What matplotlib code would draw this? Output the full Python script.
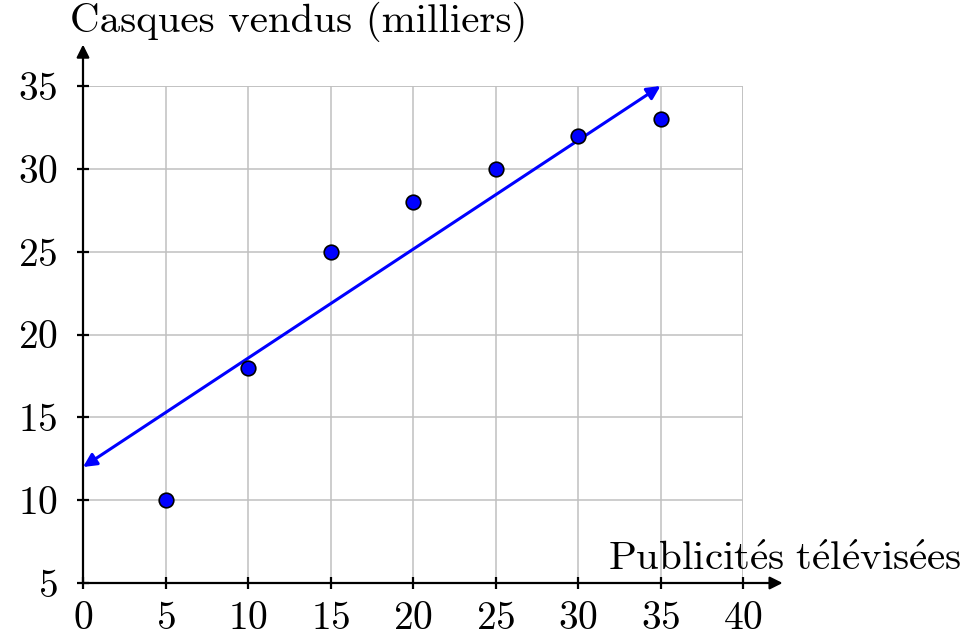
#Casques vendus en fonction des publicités télévisées
import matplotlib
matplotlib.use("Agg")
from matplotlib import pyplot as plt

# données
pubs = [5, 10, 15, 20, 25, 30, 35]
casques = [10, 18, 25, 28, 30, 32, 33]
# droite d'ajustement (extrémités)
droite_x = [0, 35]
droite_y = [12, 35]

x_ticks = [0, 5, 10, 15, 20, 25, 30, 35, 40]
y_ticks = [5, 10, 15, 20, 25, 30, 35]

plt.rcParams['font.family'] = ['cmr10', 'DejaVu Serif']
plt.rcParams['mathtext.fontset'] = 'cm'
plt.rcParams['axes.formatter.use_mathtext'] = True

fig = plt.figure(figsize=(9.64, 6.36), dpi=100)
ax = fig.add_axes([83/964, 53/636, 660/964, 497/636])

ax.set_xlim(0, 40)
ax.set_ylim(5, 35)
ax.set_xticks(x_ticks)
ax.set_yticks(y_ticks)
ax.tick_params(direction='inout', length=8, width=1.6, labelsize=28.5)
ax.tick_params(axis='y', pad=14)
ax.tick_params(axis='x', pad=9)
ax.grid(True, color='#c0c0c0', lw=1.1)
ax.set_axisbelow(True)

for s in ['top', 'right', 'left', 'bottom']:
    ax.spines[s].set_visible(False)
# grille: bord haut et droit
ax.axhline(35, color='#c0c0c0', lw=1.1, zorder=0.5)
ax.axvline(40, color='#c0c0c0', lw=1.1, zorder=0.5)

# axes avec flèches
ax.annotate('', xy=(42.4, 5), xytext=(0, 5), annotation_clip=False,
            arrowprops=dict(arrowstyle='-|>', color='black', lw=1.6,
                            mutation_scale=19, shrinkA=0, shrinkB=0))
ax.annotate('', xy=(0, 37.5), xytext=(0, 5), annotation_clip=False,
            arrowprops=dict(arrowstyle='-|>', color='black', lw=1.6,
                            mutation_scale=19, shrinkA=0, shrinkB=0))

# droite
ax.annotate('', xy=(droite_x[1], droite_y[1]), xytext=(droite_x[0], droite_y[0]),
            annotation_clip=False,
            arrowprops=dict(arrowstyle='<|-|>', color='#0000ff', lw=2.2,
                            mutation_scale=20, shrinkA=0, shrinkB=0))

ax.plot(pubs, casques, 'o', color='#0000ff', markeredgecolor='black',
        markeredgewidth=1.2, markersize=10.5, clip_on=False, zorder=5)

fig.text(70/964, 1 - 32/636, 'Casques vendus (milliers)', fontsize=29.5,
         ha='left', va='baseline')
fig.text(962/964, 1 - 570/636,
         r'$\mathrm{Publicit\acute{e}s\ t\acute{e}l\acute{e}vis\acute{e}es}$',
         fontsize=29.5, ha='right', va='baseline')

plt.savefig('out.png', dpi=100)
